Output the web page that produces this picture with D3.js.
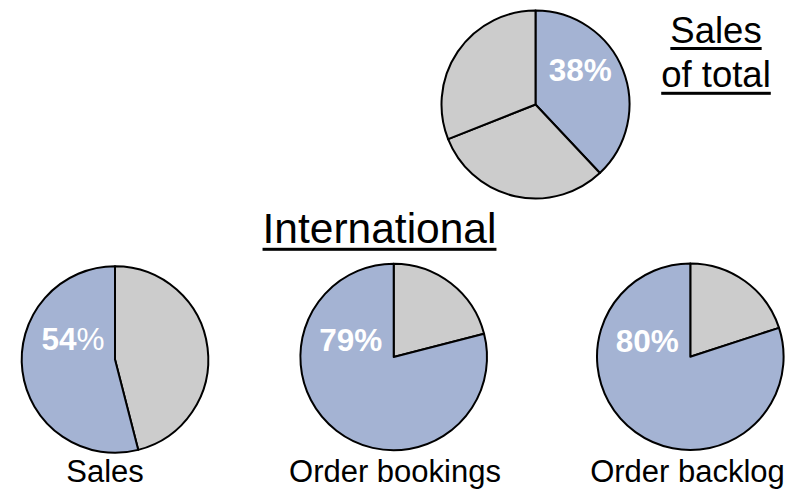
<!DOCTYPE html>
<html>
<head>
<meta charset="utf-8">
<script src="https://cdn.jsdelivr.net/npm/d3@7"></script>
<style>
  html, body { margin: 0; padding: 0; background: #fff; }
  svg { display: block; font-family: Arial, "Liberation Sans", sans-serif; }
</style>
</head>
<body>
<svg id="chart" width="802" height="491"></svg>
<script>
// ---- data ----
const topTitle = ["Sales", "of total"];
const topValues = [38, 31, 31];            // blue share first, then the two grey parts
const topLabel = "38%";

const groupTitle = "International";
const categories = ["Sales", "Order bookings", "Order backlog"];
const intlShare = [54, 79, 80];            // international %, blue
const restShare = [46, 21, 20];            // remainder, grey
const shareLabels = ["54", "79", "80"];

// ---- layout ----
const svg = d3.select("#chart");
const BLUE = "#a4b3d3", GREY = "#cccccc";
const pie = d3.pie().sort(null).value(d => d);

function drawUnderlined(x, y, text, size, thick, uy) {
  const t = svg.append("text").attr("x", x).attr("y", y)
    .attr("text-anchor", "middle").attr("font-size", size).attr("fill", "#000").text(text);
  const w = t.node().getComputedTextLength();
  svg.append("rect").attr("x", x - w / 2).attr("y", uy - thick / 2)
    .attr("width", w).attr("height", thick).attr("fill", "#000");
}

// top pie
{
  const cx = 535.5, cy = 104.5, r = 94;
  const arc = d3.arc().innerRadius(0).outerRadius(r);
  const g = svg.append("g").attr("transform", `translate(${cx},${cy})`);
  const colors = [BLUE, GREY, GREY];
  g.selectAll("path").data(pie(topValues)).join("path")
    .attr("d", arc).attr("fill", (d, i) => colors[i])
    .attr("stroke", "#000").attr("stroke-width", 2).attr("stroke-linejoin", "round");
  g.append("text").attr("x", 44.7).attr("y", -24).attr("text-anchor", "middle")
    .attr("font-size", 31.5).attr("font-weight", "bold").attr("fill", "#fff").text(topLabel);

  drawUnderlined(716, 43, topTitle[0], 36.5, 3, 48.5);
  drawUnderlined(716, 87, topTitle[1], 36.5, 3, 93.3);
}

// title
drawUnderlined(379.5, 243.3, groupTitle, 42.5, 3, 249.3);

// bottom pies
const centers = [[115, 359.5], [393.7, 357], [690.3, 356.7]];
const labelDX = [-42, -43, -43], labelDY = [-9.5, -6.5, -4.5];
const catX = [105, 395, 687.5];
const r2 = 93.3;
const arc2 = d3.arc().innerRadius(0).outerRadius(r2);
categories.forEach((cat, i) => {
  const [cx, cy] = centers[i];
  const g = svg.append("g").attr("transform", `translate(${cx},${cy})`);
  g.selectAll("path").data(pie([restShare[i], intlShare[i]])).join("path")
    .attr("d", arc2).attr("fill", (d, j) => j === 0 ? GREY : BLUE)
    .attr("stroke", "#000").attr("stroke-width", 2).attr("stroke-linejoin", "round");
  const t = g.append("text").attr("x", labelDX[i]).attr("y", labelDY[i])
    .attr("text-anchor", "middle").attr("font-size", 31.5).attr("fill", "#fff");
  t.append("tspan").attr("font-weight", "bold").text(shareLabels[i]);
  t.append("tspan").attr("font-weight", i === 0 ? "normal" : "bold").text("%");
  svg.append("text").attr("x", catX[i]).attr("y", 481.7).attr("text-anchor", "middle")
    .attr("font-size", 31).attr("fill", "#000").text(cat);
});
</script>
</body>
</html>
